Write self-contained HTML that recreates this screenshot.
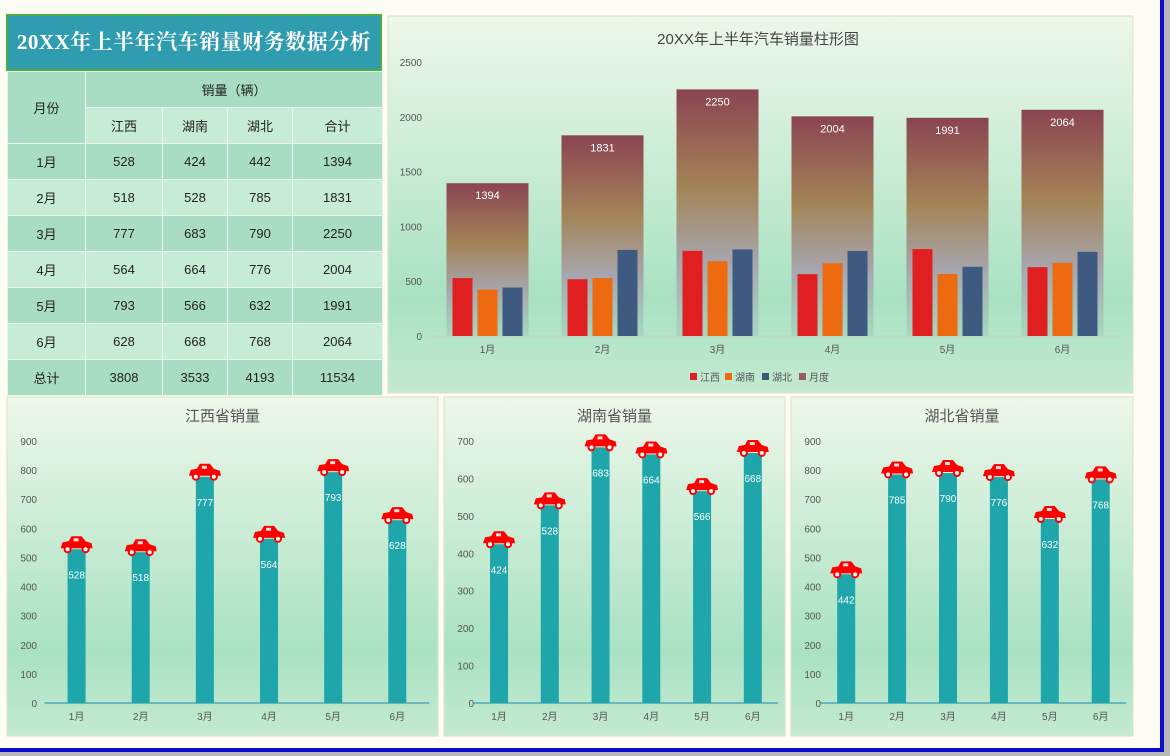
<!DOCTYPE html>
<html><head><meta charset="utf-8">
<style>
body{margin:0;width:1170px;height:756px;overflow:hidden;background:#fdfdf4;font-family:"Liberation Sans","Noto Sans CJK SC",sans-serif;position:relative}
#title{position:absolute;left:6px;top:14px;width:372px;height:53px;background:#2f9cb0;border:2px solid #4cae3c;color:#fff;font:bold 21px "Liberation Serif","Noto Serif CJK SC",serif;line-height:53px;text-align:center;letter-spacing:0.5px}
table{position:absolute;left:7px;top:71px;border-collapse:collapse;font-size:13px;color:#222}
td{border:1px solid #e8f6ee;text-align:center;padding:0;height:35px}
.a td{background:#a9dcc4}.b td{background:#c6ecd6}
.h td{background:#a9dcc4}
svg{position:absolute;left:0;top:0}
</style></head><body>
<div id="title">20XX年上半年汽车销量财务数据分析</div>
<table>
<tr class="h"><td rowspan="2" style="width:77px">月份</td><td colspan="4">销量（辆）</td></tr>
<tr class="b"><td style="width:76px">江西</td><td style="width:64px">湖南</td><td style="width:64px">湖北</td><td style="width:89px">合计</td></tr>
<tr class="a"><td>1月</td><td>528</td><td>424</td><td>442</td><td>1394</td></tr>
<tr class="b"><td>2月</td><td>518</td><td>528</td><td>785</td><td>1831</td></tr>
<tr class="a"><td>3月</td><td>777</td><td>683</td><td>790</td><td>2250</td></tr>
<tr class="b"><td>4月</td><td>564</td><td>664</td><td>776</td><td>2004</td></tr>
<tr class="a"><td>5月</td><td>793</td><td>566</td><td>632</td><td>1991</td></tr>
<tr class="b"><td>6月</td><td>628</td><td>668</td><td>768</td><td>2064</td></tr>
<tr class="a"><td>总计</td><td>3808</td><td>3533</td><td>4193</td><td>11534</td></tr>
</table>
<svg id="s" width="1170" height="756" xmlns="http://www.w3.org/2000/svg">
<defs>
<linearGradient id="bg" x1="0" y1="0" x2="0" y2="1"><stop offset="0" stop-color="#eef7ea"/><stop offset="0.75" stop-color="#a9e2c2"/><stop offset="1" stop-color="#c4ead2"/></linearGradient>
<linearGradient id="big" x1="0" y1="0" x2="0" y2="1"><stop offset="0" stop-color="#8a4452"/><stop offset="0.4" stop-color="#a48458"/><stop offset="0.7" stop-color="#a6a6ae"/><stop offset="1" stop-color="#a6d8c0"/></linearGradient>
<g id="car"><path d="M-16,2 L-14,-4 L-8,-5 L-5,-10 L5,-10 L9,-5 L15,-3 L16,2 Z" fill="#f00"/><rect x="-3" y="-8" width="5" height="3" fill="#fdd"/><circle cx="-9" cy="3" r="3" fill="#fff" stroke="#f00" stroke-width="2"/><circle cx="9" cy="3" r="3" fill="#fff" stroke="#f00" stroke-width="2"/></g>
</defs>
<rect x="1160" y="0" width="4" height="752" fill="#0a0ad0"/>
<rect x="0" y="748" width="1164" height="4" fill="#0a0ad0"/>
<rect x="0" y="752" width="1170" height="4" fill="#b8b8b8"/>
<rect x="1164" y="0" width="6" height="756" fill="#b8b8b8"/>
<g id="g"></g>
</svg>
<script>
const months=["1月","2月","3月","4月","5月","6月"];
const jiangxi=[528,518,777,564,793,628];
const hunan=[424,528,683,664,566,668];
const hubei=[442,785,790,776,632,768];
const total=[1394,1831,2250,2004,1991,2064];
const mainTicks=[0,500,1000,1500,2000,2500];
const ticks900=[0,100,200,300,400,500,600,700,800,900];
const ticks700=[0,100,200,300,400,500,600,700];
const NS="http://www.w3.org/2000/svg";
const G=document.getElementById('g');
function mk(t,a,p,txt){const e=document.createElementNS(NS,t);for(const k in a)e.setAttribute(k,a[k]);if(txt!==undefined)e.textContent=txt;(p||G).appendChild(e);return e;}
// main chart
(function(){
 const g=mk('g',{});
 
 
 mk('rect',{x:388,y:16,width:745,height:377,fill:'url(#bg)',stroke:'#e0e0c8'},g);
 const t=mk('text',{x:758,y:44,'text-anchor':'middle','font-size':15,fill:'#444'},g,'20XX年上半年汽车销量柱形图');
 
 const y0=336,ppv=274/2500,x0=430,step=115;
 const Y=v=>y0-v*ppv, X=i=>x0+step*(i+0.5);
 mainTicks.forEach(v=>{const l=mk('text',{x:422,y:Y(v)+4,'text-anchor':'end','font-size':10,fill:'#555'},g,v);
  });
 mk('line',{x1:x0,x2:x0+step*6,y1:y0,y2:y0,stroke:'#ccc'},g);
 months.forEach((m,i)=>{
  const cx=X(i);
  const b=mk('rect',{x:cx-41,y:Y(total[i]),width:82,height:total[i]*ppv,fill:'url(#big)'},g);
  
  const lt=mk('text',{x:cx,y:Y(total[i])+16,'text-anchor':'middle','font-size':11,fill:'#fff'},g,total[i]);
  
  [[jiangxi,'#e02020',-25],[hunan,'#ee6a10',0],[hubei,'#3e5a80',25]].forEach(([arr,c,o])=>{
   const r=mk('rect',{x:cx+o-10,y:Y(arr[i]),width:20,height:arr[i]*ppv,fill:c},g);
   
  });
  const xl=mk('text',{x:cx,y:y0+17,'text-anchor':'middle','font-size':10,fill:'#555'},g,m);
  
 });
 const leg=[['江西','#e02020',690],['湖南','#ee6a10',725],['湖北','#3e5a80',762],['月度','#9a5c62',799]];
 leg.forEach(([n,c,x])=>{
  const lg=mk('g',{},g);
  
  mk('rect',{x:x,y:373,width:7,height:7,fill:c},lg);
  mk('text',{x:x+10,y:381,'font-size':10,fill:'#555'},lg,n);
 });
})();
// small charts
function small(px,pw,title,data,ticks,max){
 const g=mk('g',{});
 
 
 mk('rect',{x:px,y:397,width:pw,height:339,fill:'url(#bg)',stroke:'#e0e0c8'},g);
 const t=mk('text',{x:px+pw/2,y:421,'text-anchor':'middle','font-size':15,fill:'#555'},g,title);
 
 const y0=703,ppv=262/max,x0=px+pw*0.087,x1=px+pw*0.98,step=(x1-x0)/6;
 const Y=v=>y0-v*ppv,X=i=>x0+step*(i+0.5);
 ticks.forEach(v=>{const l=mk('text',{x:px+30,y:Y(v)+4,'text-anchor':'end','font-size':10,fill:'#555'},g,v);
  });
 mk('line',{x1:x0,x2:x1,y1:y0,y2:y0,stroke:'#1a8ab0'},g);
 data.forEach((v,i)=>{
  const cx=X(i);
  const b=mk('rect',{x:cx-9,y:Y(v),width:18,height:v*ppv,fill:'#1ea6aa'},g);
  
  const c=mk('use',{href:'#car',x:cx,y:Y(v)-3},g);
  
  const l=mk('text',{x:cx,y:Y(v)+29,'text-anchor':'middle','font-size':10,fill:'#fff'},g,v);
  
  const xl=mk('text',{x:cx,y:y0+17,'text-anchor':'middle','font-size':10,fill:'#555'},g,months[i]);
  
 });
}
small(7,431,'江西省销量',jiangxi,ticks900,900);
small(444,341,'湖南省销量',hunan,ticks700,700);
small(791,342,'湖北省销量',hubei,ticks900,900);
</script>
</body></html>
